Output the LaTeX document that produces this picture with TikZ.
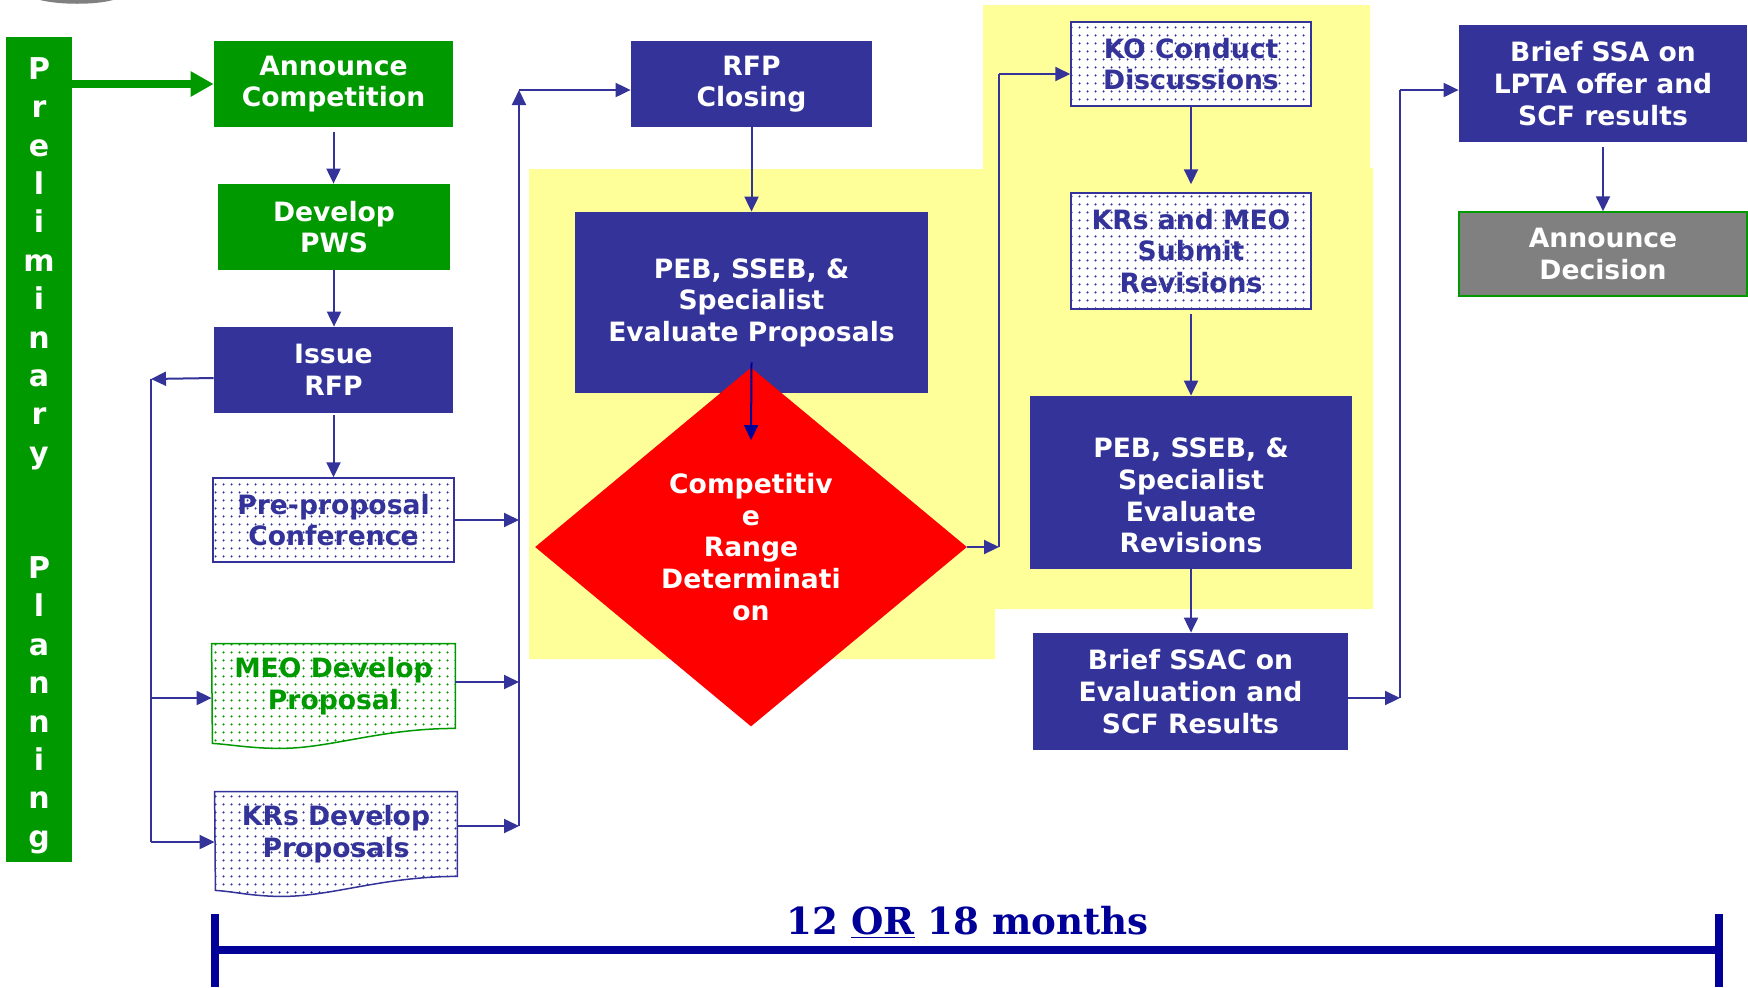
\documentclass[tikz,border=0pt]{standalone}
\usepackage{fontspec}
\usepackage{tikz}
\usetikzlibrary{arrows.meta, shapes.geometric, patterns.meta, positioning}
\newfontfamily\boxfont{DejaVu Sans}
\newfontfamily\spanfont{DejaVu Serif}
\definecolor{navy}{HTML}{333399}
\definecolor{deepnavy}{HTML}{000099}
\definecolor{leafgreen}{HTML}{009900}
\definecolor{paleyellow}{HTML}{FFFF99}
\definecolor{stonegray}{HTML}{808080}
\pgfdeclarelayer{background}
\pgfsetlayers{background,main}

\begin{document}
\begin{tikzpicture}[
        x=0.5pt, y=-0.5pt,
        txt/.style={font=\boxfont\bfseries\fontsize{13.3}{15.8}\selectfont, align=center},
        solidbox/.style={txt, rectangle, inner sep=2pt, text=white},
        bluebox/.style={solidbox, fill=navy},
        greenbox/.style={solidbox, fill=leafgreen},
        dotfill/.style={preaction={fill=white}, pattern={Dots[distance=4pt, radius=0.65pt]}, pattern color=#1},
        dotbox/.style={txt, rectangle, inner sep=2pt, text=navy, draw=navy, line width=0.75pt, dotfill=navy},
        sheet/.style={txt, rectangle, inner sep=2pt},
        sheetline/.style={draw=#1, line width=0.75pt, dotfill=#1},
        flow/.style={->, >={Triangle[length=7.5pt, width=7pt]}, draw=navy, line width=1pt},
        flowline/.style={draw=navy, line width=1pt},
        bigarrow/.style={->, >={Triangle[length=11.5pt, width=12pt]}, draw=leafgreen, line width=4pt},
        spanline/.style={draw=deepnavy, line width=4pt}
    ]
        \useasboundingbox (0,0) rectangle (1748,987);

        % cut-off logo at the top
        \fill[stonegray] (40,0) .. controls (60,5) and (95,5) .. (113,0) -- cycle;

        % Preliminary planning strip
        \node[greenbox, minimum width=33pt, minimum height=412.5pt] (prelim) at (39,449.5) {};
        \node[txt, text=white, font=\boxfont\bfseries\fontsize{15}{19.2}\selectfont] (prelimtext)
            at ([yshift=-3pt]prelim.center)
            {P\\r\\e\\l\\i\\m\\i\\n\\a\\r\\y\\[38.4pt]P\\l\\a\\n\\n\\i\\n\\g};

        % Solicitation column
        \node[greenbox, minimum width=119.5pt, minimum height=43pt] (announce) at (333.5,84) {Announce\\Competition};
        \node[greenbox, minimum width=116pt, minimum height=43pt] (pws) at (334,227) {Develop\\PWS};
        \node[bluebox, minimum width=119.5pt, minimum height=43pt] (issue) at (333.5,370) {Issue\\RFP};
        \node[dotbox, minimum width=120.5pt, minimum height=42pt] (preconf) at (333.5,520) {Pre-proposal\\Conference};
        \node[sheet, text=leafgreen, minimum width=121.5pt, minimum height=42pt] (meo) at (333.5,686) {MEO Develop\\Proposal};
        \node[sheet, text=navy, minimum width=121pt, minimum height=42pt] (krs) at (336,834) {KRs Develop\\Proposals};

        % Evaluation column
        \node[bluebox, minimum width=120.5pt, minimum height=43pt] (rfpclose) at (751.5,84) {RFP\\Closing};
        \node[bluebox, minimum width=176.5pt, minimum height=90.5pt] (pebprop) at (751.5,302.5) {PEB, SSEB, \&\\Specialist\\Evaluate Proposals};
        \node[txt, diamond, aspect=1.2, inner sep=0pt, fill=red, text=white,
            minimum width=216pt, minimum height=179.5pt] (range) at (751,547) {Competitiv\\e\\Range\\Determinati\\on};

        % Discussions column
        \node[dotbox, minimum width=120pt, minimum height=42pt] (ko) at (1191,64) {KO Conduct\\Discussions};
        \node[dotbox, minimum width=120pt, minimum height=58pt] (resubmit) at (1191,251) {KRs and MEO\\Submit\\Revisions};
        \node[bluebox, minimum width=161pt, minimum height=86.5pt] (pebrev) at (1191,482.5) {};
        \node[txt, text=white] (pebrevtext) at ([yshift=-6.5pt]pebrev.center) {PEB, SSEB, \&\\Specialist\\Evaluate\\Revisions};
        \node[bluebox, minimum width=157.5pt, minimum height=58.5pt] (ssac) at (1190.5,691.5) {Brief SSAC on\\Evaluation and\\SCF Results};

        % Decision column
        \node[bluebox, minimum width=144pt, minimum height=58.5pt] (ssa) at (1603,83.5) {Brief SSA on\\LPTA offer and\\SCF results};
        \node[solidbox, fill=stonegray, draw=leafgreen, line width=0.75pt,
            minimum width=144pt, minimum height=42pt] (decision) at (1603,254) {Announce\\Decision};

        % Yellow evaluation zone and proposal sheets
        \begin{pgfonlayer}{background}
            \fill[paleyellow] (529,169) -- (983,169) -- (983,5) -- (1370,5) -- (1370,168) -- (1373,168)
                -- (1373,609) -- (995,609) -- (995,659) -- (529,659) -- cycle;
            \draw[sheetline=leafgreen] (meo.north west) -- (meo.north east) -- (meo.south east)
                .. controls +(-75,0) and +(50,0) .. ++(-175,20)
                .. controls +(-30,0) and +(18,1) .. ++(-68,-5) -- cycle;
            \draw[sheetline=navy] (krs.north west) -- (krs.north east) -- (krs.south east)
                .. controls +(-75,0) and +(50,0) .. ++(-175,20)
                .. controls +(-30,0) and +(18,1) .. ++(-67,-6) -- cycle;
        \end{pgfonlayer}

        % Connectors
        \coordinate (fbL) at (151,379);
        \coordinate (joinL) at (519,90);
        \coordinate (joinR) at (999,74);
        \coordinate (joinS) at (1400,90);
        \coordinate (meoin) at ([yshift=-6pt]meo.west);
        \coordinate (krsin) at ([yshift=-4pt]krs.west);
        \coordinate (meoout) at ([yshift=2pt]meo.east);
        \coordinate (krsout) at ([yshift=4pt]krs.east);
        \coordinate (ssacout) at ([yshift=-3.25pt]ssac.east);

        \draw[bigarrow] (prelim.east |- announce.west) -- (announce.west);
        \draw[flow, shorten <=2.5pt] (announce.south) -- (announce.south |- pws.north);
        \draw[flow] (pws.south) -- (pws.south |- issue.north);
        \draw[flow, shorten <=1pt] (issue.south) -- (preconf.north);

        \draw[flow] ([yshift=-4pt]issue.west) -- (fbL);
        \draw[flowline] (fbL) -- (fbL |- krsin);
        \draw[flow] (fbL |- meoin) -- (meoin);
        \draw[flow] (fbL |- krsin) -- (krsin);

        \draw[flow] (preconf.east) -- (preconf.east -| joinL);
        \draw[flow] (meoout) -- (meoout -| joinL);
        \draw[flow] (krsout) -- (krsout -| joinL);
        \draw[flow] (krsout -| joinL) -- (joinL);
        \draw[flow] (joinL) -- (joinL -| rfpclose.west);

        \draw[flow] (rfpclose.south) -- (pebprop.north);
        \draw[flow, draw=deepnavy] ([yshift=15.5pt]pebprop.south) -- ([yshift=-36.5pt]range.north);

        \draw[flow] (range.east) -- (range.east -| joinR);
        \draw[flowline] (range.east -| joinR) -- (joinR);
        \draw[flow] (joinR) -- (joinR -| ko.west);
        \draw[flow, shorten >=4pt] (ko.south) -- (resubmit.north);
        \draw[flow, shorten <=2pt] (resubmit.south) -- (pebrev.north);
        \draw[flow] (pebrev.south) -- (pebrev.south |- ssac.north);

        \draw[flow] (ssacout) -- (ssacout -| joinS);
        \draw[flowline] (ssacout -| joinS) -- (joinS);
        \draw[flow] (joinS) -- (joinS -| ssa.west);
        \draw[flow, shorten <=2.5pt] (ssa.south) -- (decision.north);

        % Time span
        \coordinate (spanL) at (215,950);
        \coordinate (spanR) at (1719,950);
        \draw[spanline] (spanL) -- (spanR);
        \draw[spanline] ([yshift=18pt]spanL) -- ([yshift=-18.5pt]spanL);
        \draw[spanline] ([yshift=18pt]spanR) -- ([yshift=-18.5pt]spanR);
        \node[font=\spanfont\bfseries\fontsize{18.6}{22}\selectfont, text=deepnavy, anchor=base] (span) at (967.5,934)
            {12 \underline{OR} 18 months};
\end{tikzpicture}
\end{document}
